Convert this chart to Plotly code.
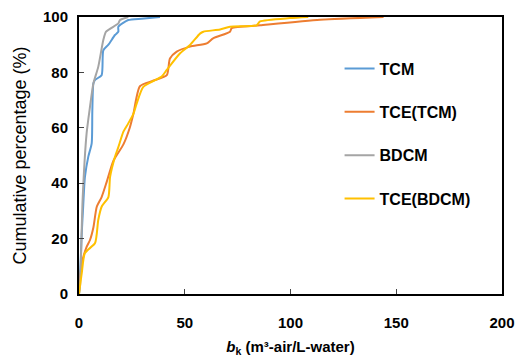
import plotly.graph_objects as go

# TCM
tcm_x = [0, 0.8, 1.3, 2.0, 2.8, 4.4, 6.0, 6.3, 6.8, 7.6, 10.7, 11.5, 13.9, 17.0, 18.6, 18.6, 23.3, 29.6, 38.3]
tcm_y = [0, 12, 22, 32, 42.3, 49.6, 54.4, 66, 76, 77.3, 79, 88, 90, 93.5, 94.7, 96.5, 98.9, 99.4, 100]
# TCE(TCM)
tcet_x = [0, 1.3, 3.6, 5.2, 6.8, 8.4, 10.7, 13.1, 16.2, 21.0, 24.0, 25.7, 28.8, 35.0, 41.5, 43.0, 46.2, 52.5, 60.4, 63.4, 71.4, 72.2, 85.6, 114.0, 144.0]
tcet_y = [1, 11, 17, 19.5, 24, 31.5, 35, 40.5, 48, 54, 60, 65, 75, 77, 79, 85, 87.5, 89.3, 90.5, 92.3, 94.7, 96, 97, 99, 100]
# BDCM
bdcm_x = [0, 0.5, 1.7, 3.6, 5.2, 6.8, 9.1, 11.5, 12.8, 18.6, 19.4, 23.3]
bdcm_y = [0, 3, 34, 58, 67.6, 76, 82, 91.7, 94.7, 97.7, 98.9, 100]
# TCE(BDCM)
tceb_x = [0, 1.3, 2.8, 7.6, 9.1, 10.7, 13.9, 14.7, 17.0, 18.6, 21.0, 23.3, 25.7, 27.3, 30.4, 39.1, 41.5, 47.8, 52.5, 57.2, 58.8, 66.7, 71.4, 84.0, 85.6, 99.8, 108.4]
tceb_y = [0, 7.5, 14.8, 18.4, 26.7, 31.5, 35, 42.3, 49.5, 53, 58.6, 61.6, 65, 68.8, 74.8, 78.5, 80.9, 86.9, 89.9, 94, 94.7, 95.5, 96.5, 97, 98.4, 99.6, 100]

series = [
    ("TCM", tcm_x, tcm_y, "#5B9BD5"),
    ("TCE(TCM)", tcet_x, tcet_y, "#ED7D31"),
    ("BDCM", bdcm_x, bdcm_y, "#A5A5A5"),
    ("TCE(BDCM)", tceb_x, tceb_y, "#FFC000"),
]

fig = go.Figure()
for name, xs, ys, col in series:
    fig.add_trace(go.Scatter(x=xs, y=ys, mode="lines", name=name, legendgroup=name,
                             line=dict(color=col, width=2, shape="spline", smoothing=0.6)))

font = "Liberation Sans, Arial, sans-serif"
fig.update_layout(
    width=518, height=360,
    margin=dict(l=79, r=16, t=17, b=66, autoexpand=False),
    paper_bgcolor="white", plot_bgcolor="white",
    font=dict(family=font, size=14, color="black"),
    showlegend=True,
    legend=dict(x=0.616, y=0.875, xanchor="left", yanchor="top", tracegroupgap=19.5,
                font=dict(size=16, weight="bold"), itemwidth=30, bgcolor="rgba(0,0,0,0)"),
    xaxis=dict(range=[0, 200], tickvals=[0, 50, 100, 150, 200], ticks="inside", ticklen=5,
               tickwidth=1, showline=True, linecolor="black", linewidth=2, mirror=True,
               showgrid=False, zeroline=False, tickfont=dict(size=15, weight="bold"),
               automargin=False, ticklabelstandoff=14,
               title=dict(text="<i>b</i><sub>k</sub> (m³-air/L-water)", standoff=11,
                          font=dict(size=15, weight="bold"))),
    yaxis=dict(range=[0, 100], tickvals=[0, 20, 40, 60, 80, 100], ticks="inside", ticklen=5,
               tickwidth=1, showline=True, linecolor="black", linewidth=2, mirror=True,
               showgrid=False, zeroline=False, tickfont=dict(size=15, weight="bold"),
               automargin=False, ticklabelstandoff=6,
               title=dict(text="Cumulative percentage (%)", standoff=12, font=dict(size=18))),
)
fig.write_html("out.html")
